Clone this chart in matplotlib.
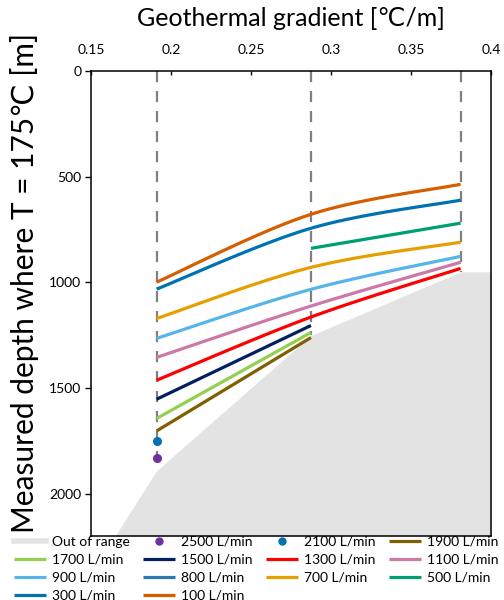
import numpy as np
import matplotlib
matplotlib.use("Agg")
import matplotlib.pyplot as plt
from matplotlib.lines import Line2D

plt.rcParams['font.family'] = ['Lato', 'DejaVu Sans']

# Geothermal gradients [°C/m] at which the depths were evaluated
gradients = [0.191, 0.2875, 0.381]

# Measured depth where T = 175 °C [m], per flow rate
flow_labels = ['100 L/min', '300 L/min', '500 L/min', '700 L/min', '800 L/min',
               '900 L/min', '1100 L/min', '1300 L/min', '1500 L/min',
               '1700 L/min', '1900 L/min']
depth_100 = [999, 678, 536]
depth_300 = [1032, 744, 611]
depth_500 = [np.nan, 839, 720]
depth_700 = [1171, 929, 810]
depth_800 = [np.nan, np.nan, np.nan]
depth_900 = [1265, 1033, 877]
depth_1100 = [1355, 1112, 905]
depth_1300 = [1463, 1164, 934]
depth_1500 = [1553, 1204, np.nan]
depth_1700 = [1644, 1237, np.nan]
depth_1900 = [1703, 1261, np.nan]

# Single-point results at the lowest gradient
depth_2100 = [1751]
depth_2500 = [1831]

# Boundary of the out-of-range region
range_x = [0.165, 0.191, 0.2875, 0.381, 0.40]
range_y = [2200, 1891, 1251, 950, 950]

xticks = [0.15, 0.2, 0.25, 0.3, 0.35, 0.4]
yticks = [0, 500, 1000, 1500, 2000]

colors = {
    '100 L/min': '#D55E00', '300 L/min': '#0072B2', '500 L/min': '#009E73',
    '700 L/min': '#E69F00', '800 L/min': '#2E78B4', '900 L/min': '#56B4E9',
    '1100 L/min': '#CC79A7', '1300 L/min': '#FF0000', '1500 L/min': '#002060',
    '1700 L/min': '#92D050', '1900 L/min': '#7F5F00',
}

fig = plt.figure(figsize=(5.04, 6.0), dpi=100)
ax = fig.add_axes([91 / 504, 1 - 536 / 600, 400 / 504, 465 / 600])
XLIM = (0.15, 0.40)
YLIM = (2200, 0)
ax.set_xlim(*XLIM)
ax.set_ylim(*YLIM)


def smooth_curve(xs, ys, n=40):
    """Bezier smoothing through the points (Catmull-Rom style), done in
    axes-normalised space so the curve looks the same on screen."""
    xs = np.asarray(xs, float)
    ys = np.asarray(ys, float)
    ok = ~np.isnan(ys)
    xs, ys = xs[ok], ys[ok]
    if len(xs) < 3:
        return xs, ys
    u = (xs - XLIM[0]) / (XLIM[1] - XLIM[0]) * 400
    v = (ys - YLIM[1]) / (YLIM[0] - YLIM[1]) * 465
    P = np.column_stack([u, v])
    Pe = np.vstack([P[0], P, P[-1]])
    out = []
    t = np.linspace(0, 1, n)[:, None]
    for i in range(len(P) - 1):
        p0, p3 = Pe[i + 1], Pe[i + 2]
        c1 = p0 + (Pe[i + 2] - Pe[i]) / 6.0
        c2 = p3 - (Pe[i + 3] - Pe[i + 1]) / 6.0
        seg = ((1 - t) ** 3) * p0 + 3 * ((1 - t) ** 2) * t * c1 \
            + 3 * (1 - t) * t ** 2 * c2 + t ** 3 * p3
        out.append(seg if i == 0 else seg[1:])
    out = np.vstack(out)
    xo = out[:, 0] / 400 * (XLIM[1] - XLIM[0]) + XLIM[0]
    yo = out[:, 1] / 465 * (YLIM[0] - YLIM[1]) + YLIM[1]
    return xo, yo


# Out-of-range region
ax.fill_between(range_x, range_y, 2200, color='#E3E3E3', lw=0, zorder=1)

# Dashed guides at each evaluated gradient, down to the range boundary
for g in gradients:
    bottom = np.interp(g, range_x, range_y)
    ax.plot([g, g], [0, bottom], color='#808080', lw=1.6,
            dashes=(5, 4), zorder=2)

series = [depth_100, depth_300, depth_500, depth_700, depth_800, depth_900,
          depth_1100, depth_1300, depth_1500, depth_1700, depth_1900]
handles = {}
for lab, d in zip(flow_labels, series):
    xs, ys = smooth_curve(gradients, d)
    h, = ax.plot(xs, ys, color=colors[lab], lw=2.3, solid_capstyle='butt',
                 zorder=3, label=lab)
    handles[lab] = h

ax.plot([gradients[0]], depth_2100, 'o', color='#0072B2', ms=5.5, zorder=4)
ax.plot([gradients[0]], depth_2500, 'o', color='#7030A0', ms=5.5, zorder=4)

# Axes styling
ax.xaxis.tick_top()
ax.set_xticks(xticks)
ax.set_xticklabels([f'{v:g}' for v in xticks])
ax.set_yticks(yticks)
ax.tick_params(axis='x', direction='in', length=3, width=1, pad=11,
               labelsize=10, colors='black')
ax.tick_params(axis='y', direction='out', length=4, width=1, pad=3,
               labelsize=10)
for sp in ax.spines.values():
    sp.set_linewidth(1.1)
    sp.set_color('black')

fig.text(291 / 504, 1 - 19 / 600, 'Geothermal gradient [℃/m]',
         ha='center', va='center', fontsize=18)
fig.text(25 / 504, 1 - 283 / 600, 'Measured depth where T = 175℃ [m]',
         ha='center', va='center', rotation=90, fontsize=21.5)

# Legend (filled column-wise, reads row-wise)
oor = Line2D([], [], color='#E3E3E3', lw=4)
m2500 = Line2D([], [], ls='none', marker='o', color='#7030A0', ms=5)
m2100 = Line2D([], [], ls='none', marker='o', color='#0072B2', ms=5)
order = [
    (oor, 'Out of range'), (handles['1700 L/min'], '1700 L/min'),
    (handles['900 L/min'], '900 L/min'), (handles['300 L/min'], '300 L/min'),
    (m2500, '2500 L/min'), (handles['1500 L/min'], '1500 L/min'),
    (handles['800 L/min'], '800 L/min'), (handles['100 L/min'], '100 L/min'),
    (m2100, '2100 L/min'), (handles['1300 L/min'], '1300 L/min'),
    (handles['700 L/min'], '700 L/min'),
    (handles['1900 L/min'], '1900 L/min'), (handles['1100 L/min'], '1100 L/min'),
    (handles['500 L/min'], '500 L/min'),
]
fig.legend([h for h, _ in order], [t for _, t in order], ncol=4,
           loc='upper left', bbox_to_anchor=(14 / 504, 1 - 536 / 600),
           frameon=False, fontsize=10, handlelength=2.3, handletextpad=0.4,
           columnspacing=1.0, labelspacing=0.42, borderpad=0.0,
           borderaxespad=0.0)

fig.savefig('out.png', dpi=100)
